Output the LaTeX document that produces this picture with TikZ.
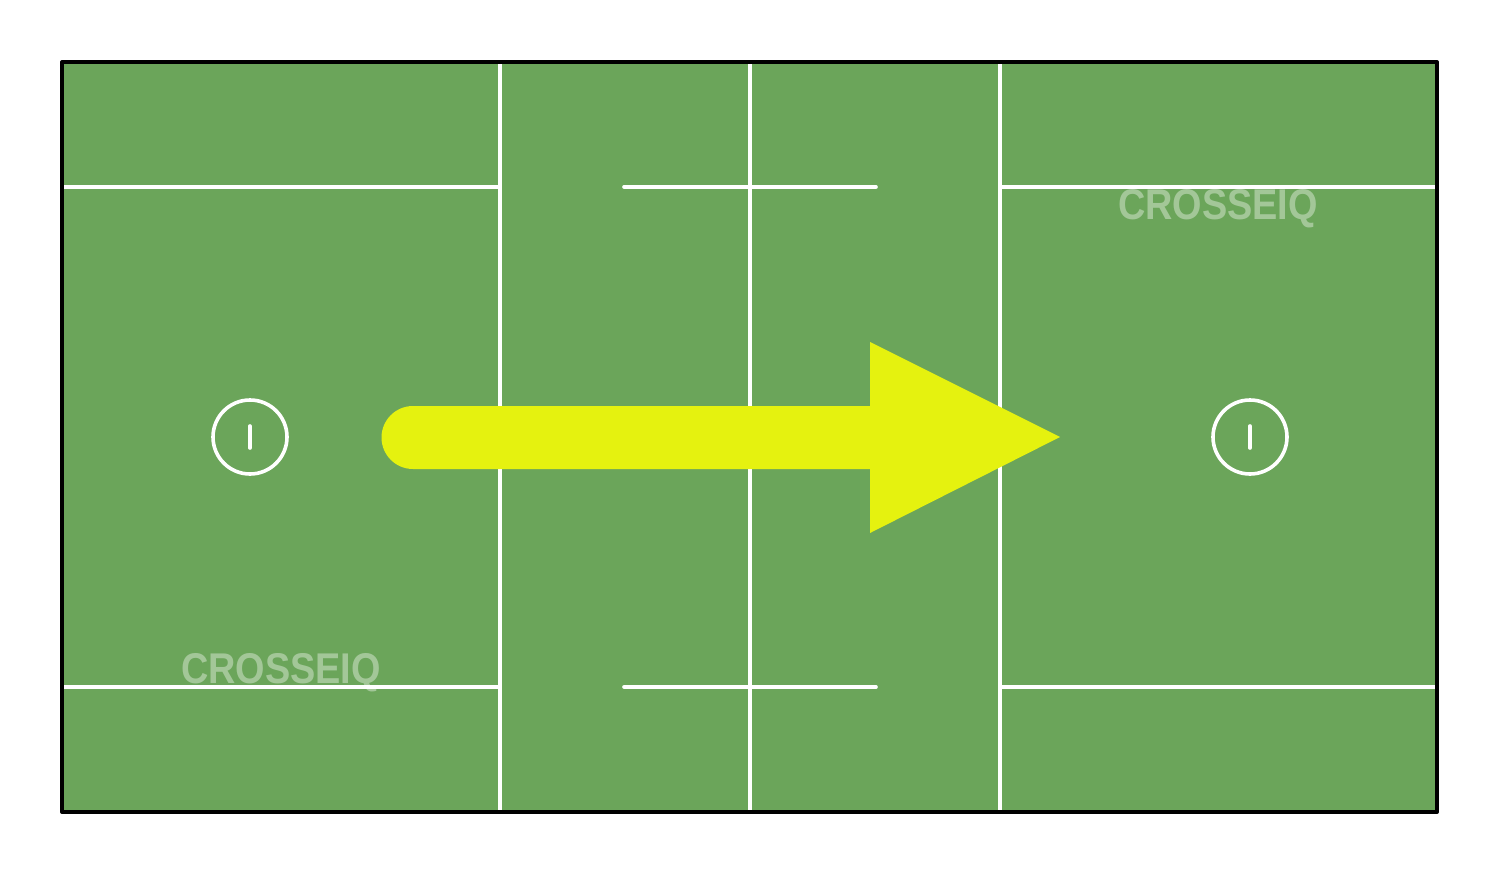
\documentclass[tikz,border=0pt]{standalone}
\usepackage{fontspec}
\setsansfont{Liberation Sans}
\usepackage{xcolor}
\usetikzlibrary{calc}
\definecolor{turf}{RGB}{107,165,90}
\definecolor{volt}{RGB}{229,242,15}
\tikzset{
	line/.style={draw=white, line width=3.6pt},
	mark line/.style={draw=white, line width=3.6pt, line cap=round},
	brand/.style={text=white, opacity=0.38, font=\sffamily\bfseries\fontsize{43}{43}\selectfont, xscale=0.88, inner sep=0pt}
}

\begin{document}
\begin{tikzpicture}[x=1pt, y=-1pt]
	\useasboundingbox (0,0) rectangle (1500,875);

	\coordinate (NW) at (62,62);
	\coordinate (SE) at (1437,812);
	\coordinate (L) at (250,437);
	\coordinate (R) at (1250,437);

	\fill[turf] (NW) rectangle (SE);

	% lines across the field
	\foreach \x in {500,750,1000}
		\draw[line] (\x,62) -- (\x,812);
	\foreach \y in {187,687} {
		\draw[line] (62,\y) -- (498,\y);
		\draw[line] (1002,\y) -- (1437,\y);
		\draw[mark line] (624,\y) -- (876,\y);
	}

	% goal circles
	\foreach \c in {L,R} {
		\draw[line] (\c) circle (37);
		\draw[mark line] ($ (\c)+(0,-11) $) -- ($ (\c)+(0,11) $);
	}

	\node[brand] (brandtop) at (1218,209) {CROSSEIQ};
	\node[brand] (brandbot) at (281,673) {CROSSEIQ};

	% arrow
	\fill[volt] (413,406) -- (870,406) -- (870,342) -- (1060,437) -- (870,533) -- (870,469) -- (413,469) arc (90:270:31.5) -- cycle;

	\draw[line width=4pt, line join=round] (NW) rectangle (SE);

\end{tikzpicture}
\end{document}
